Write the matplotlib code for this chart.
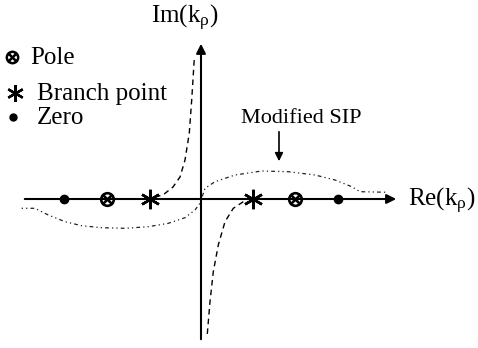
import matplotlib.pyplot as plt
import numpy as np
from matplotlib import rcParams

rcParams.update({'font.family': 'Liberation Serif',
                 'mathtext.fontset': 'stix'})

# singularities on the real axis
zeros = [-2.74, 2.74]
poles = [-1.88, 1.88]
branch = [-1.03, 1.03]

# branch cuts (hyperbolic)
cut_up_x = [-0.92, -0.76, -0.56, -0.42, -0.32, -0.234, -0.186, -0.134]
cut_up_y = [0.04, 0.08, 0.24, 0.44, 0.78, 1.32, 1.98, 2.81]
cut_dn_x = [0.846, 0.646, 0.48, 0.346, 0.246, 0.18, 0.126]
cut_dn_y = [-0.054, -0.186, -0.454, -0.92, -1.454, -2.054, -2.70]

# modified SIP path
sip_x = [-3.586, -3.32, -3.054, -2.72, -2.386, -1.986, -1.52, -1.054, -0.654,
         -0.32, -0.12, -0.02, 0.08, 0.28, 0.68, 1.214, 1.746, 2.28, 2.68,
         3.014, 3.18, 3.746]
sip_y = [-0.186, -0.186, -0.32, -0.454, -0.534, -0.574, -0.586, -0.554, -0.486,
         -0.374, -0.22, -0.086, 0.214, 0.346, 0.48, 0.56, 0.546, 0.48, 0.38,
         0.246, 0.146, 0.134]

fig = plt.figure(figsize=(4.78, 3.48), dpi=100)
ax = fig.add_axes([0, 0, 1, 1])
ax.set_xlim(-4.02, 5.54)
ax.set_ylim(-2.98, 3.98)
ax.axis('off')

# axes with arrows
ax.annotate('', xy=(3.96, 0), xytext=(-3.58, 0),
            arrowprops=dict(arrowstyle='-|>', color='k', lw=1.5, mutation_scale=14))
ax.annotate('', xy=(0, 3.16), xytext=(0, -2.86),
            arrowprops=dict(arrowstyle='-|>', color='k', lw=1.5, mutation_scale=14))
ax.text(5.50, -0.02, r'Re(k$_\mathregular{\rho}$)', fontsize=18, va='center', ha='right')
ax.text(-0.32, 3.64, r'Im(k$_\mathregular{\rho}$)', fontsize=18, va='center', ha='center')

ax.plot(cut_up_x, cut_up_y, color='k', lw=1.0, ls=(0, (4, 3)))
ax.plot(cut_dn_x, cut_dn_y, color='k', lw=1.0, ls=(0, (4, 3)))
ax.plot(sip_x, sip_y, color='#222222', lw=0.9, ls=(0, (1, 2.5, 1, 2.5, 3, 2.5)))

ax.plot(zeros, [0, 0], 'o', color='k', ms=6, zorder=5)
ax.plot(poles, [0, 0], ls='none', marker=r'$\otimes$', color='k', ms=10, zorder=5)
ax.plot(branch, [0, 0], ls='none', marker=(6, 2, 0), color='k', ms=14, mew=1.8, zorder=5)

# legend
ax.plot(-3.78, 2.84, ls='none', marker=r'$\otimes$', color='k', ms=9)
ax.plot(-3.72, 2.12, ls='none', marker=(6, 2, 0), color='k', ms=12, mew=1.7)
ax.plot(-3.76, 1.64, 'o', color='k', ms=5)
ax.text(-3.42, 2.82, 'Pole', fontsize=18, va='center')
ax.text(-3.28, 2.10, 'Branch point', fontsize=18, va='center')
ax.text(-3.28, 1.62, 'Zero', fontsize=18, va='center')

ax.text(2.0, 1.62, 'Modified SIP', fontsize=16, va='center', ha='center')
ax.annotate('', xy=(1.56, 0.70), xytext=(1.56, 1.40),
            arrowprops=dict(arrowstyle='-|>', color='k', lw=1.2, mutation_scale=12))

fig.savefig('out.png', dpi=100)
